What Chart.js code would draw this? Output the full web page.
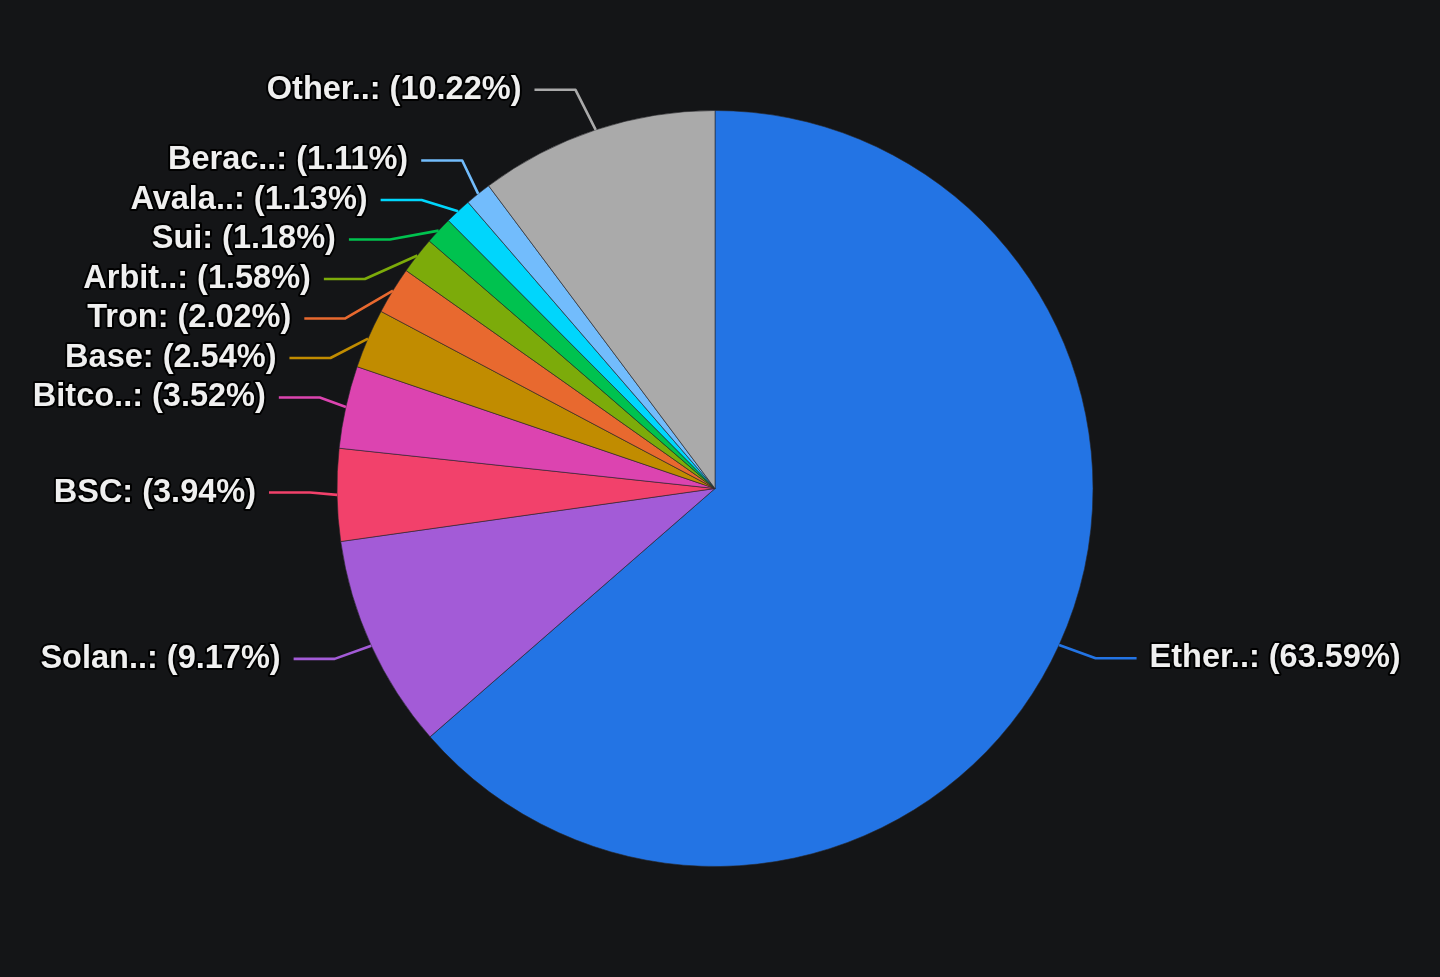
<!DOCTYPE html>
<html>
<head>
<meta charset="utf-8">
<script src="https://cdn.jsdelivr.net/npm/chart.js@4.4.1/dist/chart.umd.min.js"></script>
<style>
  html, body { margin: 0; padding: 0; background: #141517; }
  #wrap { width: 1440px; height: 977px; position: relative; }
</style>
</head>
<body>
<div id="wrap"><canvas id="c"></canvas></div>
<script>
// ---- data ----
const categories = ['Ethereum', 'Solana', 'BSC', 'Bitcoin', 'Base', 'Tron', 'Arbitrum', 'Sui', 'Avalanche', 'Berachain', 'Others'];
const shares = [63.59, 9.17, 3.94, 3.52, 2.54, 2.02, 1.58, 1.18, 1.13, 1.11, 10.22];
const sliceColors = ['#2374e4', '#a35bd7', '#f2416b', '#dc44b0', '#c18c00', '#e8692f', '#7cab0a', '#00c24f', '#00d6fc', '#72bcfc', '#aaaaaa'];

function shortName(n) { return n.length > 4 ? n.slice(0, 5) + '..' : n; }

const labelPlugin = {
  id: 'pieLabels',
  afterDatasetsDraw(chart) {
    const ctx = chart.ctx;
    const meta = chart.getDatasetMeta(0);
    const ds = chart.data.datasets[0];
    const items = [];
    meta.data.forEach((arc, i) => {
      const mid = (arc.startAngle + arc.endAngle) / 2;
      const r = arc.outerRadius;
      const cx = arc.x, cy = arc.y;
      const ex = cx + r * Math.cos(mid), ey = cy + r * Math.sin(mid);
      const ny = cy + (r + 39) * Math.sin(mid) - 3;
      items.push({ i, mid, cx, cy, r, ex, ey, y: ny, side: Math.cos(mid) >= 0 ? 1 : -1 });
    });
    const spacing = 39.5;
    [1, -1].forEach(side => {
      const list = items.filter(it => it.side === side).sort((a, b) => a.y - b.y);
      for (let k = 1; k < list.length; k++) {
        if (list[k].y < list[k - 1].y + spacing) list[k].y = list[k - 1].y + spacing;
      }
    });
    ctx.save();
    ctx.font = 'bold 32.5px "Liberation Sans", Arial, sans-serif';
    ctx.textBaseline = 'middle';
    items.forEach(it => {
      const dy = it.y - it.cy;
      const Rx = it.r + 68;
      const Ry = dy < 0 ? it.r + 58 : it.r + 142;
      const t = Math.max(0, 1 - (dy / Ry) * (dy / Ry));
      const sx = it.cx + it.side * Rx * Math.sqrt(t);
      const bx = sx - it.side * 41;
      ctx.strokeStyle = ds.backgroundColor[it.i];
      ctx.lineWidth = 2.6;
      ctx.lineJoin = 'round';
      ctx.beginPath();
      ctx.moveTo(sx, it.y);
      ctx.lineTo(bx, it.y);
      ctx.lineTo(it.ex, it.ey);
      ctx.stroke();
      const txt = shortName(chart.data.labels[it.i]) + ': (' + ds.data[it.i].toFixed(2) + '%)';
      ctx.textAlign = it.side > 0 ? 'left' : 'right';
      const tx = sx + it.side * 13;
      ctx.lineWidth = 4;
      ctx.strokeStyle = '#000000';
      ctx.strokeText(txt, tx, it.y);
      ctx.fillStyle = '#efefef';
      ctx.fillText(txt, tx, it.y);
    });
    ctx.restore();
  }
};

new Chart(document.getElementById('c'), {
  type: 'pie',
  data: {
    labels: categories,
    datasets: [{
      data: shares,
      backgroundColor: sliceColors,
      borderColor: 'rgba(40,40,44,0.6)',
      borderWidth: 1
    }]
  },
  options: {
    responsive: true,
    maintainAspectRatio: false,
    animation: false,
    layout: { padding: { top: 110, bottom: 110, left: 0, right: 10 } },
    plugins: { legend: { display: false }, tooltip: { enabled: false } }
  },
  plugins: [labelPlugin]
});
</script>
</body>
</html>
